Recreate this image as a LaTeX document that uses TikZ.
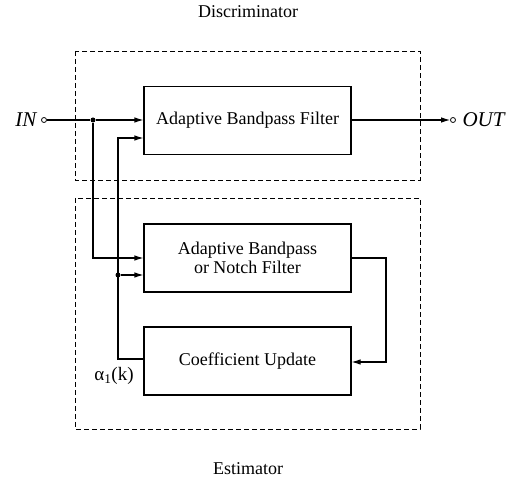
\documentclass[tikz,border=0pt]{standalone}
\usepackage{fontspec}
\setmainfont{Liberation Serif}
\usetikzlibrary{arrows.meta}
\begin{document}
\begin{tikzpicture}[x=1pt,y=-1pt,
  blk/.style={draw,line width=1.1pt,minimum width=207pt,minimum height=68pt,align=center,font=\fontsize{18}{20}\selectfont,inner sep=0pt},
  grp/.style={draw,line width=0.9pt,dash pattern=on 5pt off 3pt},
  wire/.style={line width=1.1pt},
  arr/.style={wire,-{Latex[length=9pt,width=5.5pt]}},
  lbl/.style={font=\fontsize{18}{20}\selectfont,anchor=base},
  io/.style={font=\fontsize{21}{23}\selectfont\itshape},
  term/.style={circle,draw,line width=0.8pt,inner sep=0pt,minimum size=5pt,fill=white},
  jn/.style={circle,fill,inner sep=0pt,minimum size=5pt}]
\useasboundingbox (0,0) rectangle (512,478);
\draw[grp] (75,51) rectangle (420,180);
\draw[grp] (75,198) rectangle (420,429);
\node[lbl] (disc) at (248,18) {Discriminator};
\node[lbl] (est) at (248,475) {Estimator};
\node[blk] (abf) at (247.5,120.5) {Adaptive Bandpass Filter};
\node[blk] (abnf) at (247.5,258) {Adaptive Bandpass\\[-1pt]or Notch Filter};
\node[blk] (cu) at (247.5,361) {Coefficient Update};
\node[term] (in) at (44,120) {};
\node[term] (out) at (453,120) {};
\node[io,anchor=east] (intxt) at (40,120) {IN};
\node[io,anchor=west] (outtxt) at (459,120) {OUT};
\node[jn] (j1) at (93,120) {};
\node[jn] (j2) at (118,275) {};
\node[lbl,font=\fontsize{19}{21}\selectfont] (alpha) at (114,381) {α\textsubscript{1}(k)};
\coordinate (c1) at (93,258);
\coordinate (c2) at (118,138);
\coordinate (c3) at (118,359);
\coordinate (c4) at (386,258);
\coordinate (c5) at (386,362);
\draw[wire] (in) -- (j1);
\draw[arr] (j1) -- (abf.west |- j1);
\draw[arr] (j1) -- (c1) -- (abnf.west |- c1);
\draw[arr] (cu.west |- c3) -- (c3) -- (c2) -- (abf.west |- c2);
\draw[arr] (j2) -- (abnf.west |- j2);
\draw[arr] (abf.east |- out) -- (out);
\draw[arr] (abnf.east |- c4) -- (c4) -- (c5) -- (cu.east |- c5);
\end{tikzpicture}
\end{document}
